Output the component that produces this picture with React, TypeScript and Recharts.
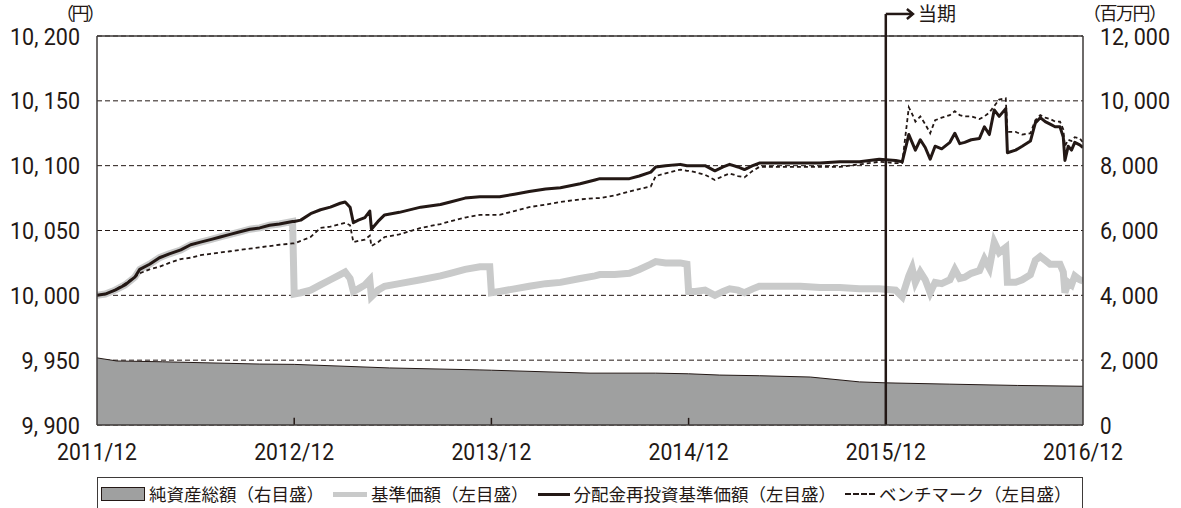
import { ComposedChart, Line, Area, XAxis, YAxis, CartesianGrid, ReferenceLine } from 'recharts';

// time axis: months since 2011/12
const months = [
  0, 0.5, 1.1, 1.7, 2.3, 2.6, 3.2, 3.8, 4.4, 5.1, 5.7, 6.3, 6.9, 7.5, 8.1, 8.7, 9.3, 9.9, 10.5, 11.1,
  11.9, 12.0, 12.4, 13.0, 13.6, 14.2, 14.8, 15.1, 15.4, 15.6, 15.9, 16.3, 16.6, 16.7, 17.1, 17.5, 18.4,
  19.7, 20.9, 21.5, 22.4, 23.3, 23.9, 24.0, 24.5, 25.4, 26.3, 27.3, 28.2, 29.4, 30.3, 30.6, 31.5, 32.4,
  33.0, 33.7, 34.0, 34.6, 35.5, 35.9, 36.0, 36.4, 37.0, 37.6, 38.1, 38.5, 39.0, 39.4, 39.9, 40.3, 41.6,
  42.8, 44.0, 45.2, 46.4, 47.6, 48.6, 49.0, 49.4, 49.6, 49.8, 50.1, 50.4, 50.7, 51.0, 51.4, 51.9, 52.2,
  52.5, 52.8, 53.2, 53.7, 54.0, 54.3, 54.6, 54.9, 55.3, 55.4, 55.9, 56.3, 56.8, 57.1, 57.4, 57.7, 58.0,
  58.3, 58.6, 58.8, 58.9, 59.1, 59.3, 59.5, 59.8, 60.0,
];

// 分配金再投資基準価額
const reinvested = [
  10000, 10001, 10004, 10008, 10014, 10020, 10024, 10029, 10032, 10035, 10039, 10041, 10043, 10045, 10047, 10049, 10051, 10052, 10054, 10055,
  10057, 10057, 10058, 10063, 10066, 10068, 10071, 10072, 10068, 10056, 10058, 10060, 10065, 10051, 10057, 10062, 10064,
  10068, 10070, 10072, 10075, 10076, 10076, 10076, 10076, 10078, 10080, 10082, 10083, 10086, 10089, 10090, 10090, 10090,
  10092, 10095, 10099, 10100, 10101, 10100, 10100, 10100, 10100, 10096, 10099, 10101, 10099, 10097, 10100, 10102, 10102,
  10102, 10102, 10103, 10103, 10105, 10104, 10103, 10124, 10118, 10112, 10120, 10114, 10105, 10115, 10113, 10118, 10125,
  10117, 10118, 10120, 10121, 10130, 10124, 10143, 10138, 10144, 10110, 10112, 10115, 10119, 10133, 10137, 10134, 10132,
  10130, 10130, 10122, 10104, 10115, 10112, 10118, 10116, 10114,
];

// 基準価額
const nav = [
  10000, 10001, 10004, 10008, 10014, 10020, 10024, 10029, 10032, 10035, 10039, 10041, 10043, 10045, 10047, 10049, 10051, 10052, 10054, 10055,
  10057, 10001, 10002, 10004, 10008, 10012, 10016, 10018, 10013, 10003, 10005, 10008, 10012, 9999, 10004, 10007, 10009,
  10012, 10015, 10017, 10020, 10022, 10022, 10002, 10003, 10005, 10007, 10009, 10010, 10013, 10015, 10016, 10016, 10017,
  10020, 10024, 10026, 10025, 10025, 10024, 10003, 10003, 10004, 10000, 10003, 10005, 10004, 10002, 10005, 10007, 10007,
  10007, 10006, 10006, 10005, 10005, 10004, 9999, 10015, 10021, 10010, 10018, 10012, 10002, 10010, 10009, 10012, 10020,
  10013, 10014, 10017, 10019, 10028, 10021, 10041, 10033, 10037, 10010, 10010, 10012, 10016, 10027, 10030, 10027, 10024,
  10024, 10024, 10018, 10002, 10010, 10008, 10015, 10012, 10011,
];

// ベンチマーク
const benchmark = [
  10000, 10001, 10004, 10009, 10014, 10017, 10020, 10022, 10025, 10028, 10029, 10031, 10032, 10033, 10034, 10035, 10036, 10037, 10038, 10039,
  10040, 10040, 10042, 10045, 10052, 10053, 10055, 10056, 10054, 10041, 10042, 10043, 10046, 10038, 10041, 10045, 10047,
  10052, 10055, 10057, 10060, 10062, 10062, 10062, 10062, 10065, 10068, 10070, 10072, 10074, 10075, 10075, 10077, 10080,
  10082, 10084, 10092, 10094, 10097, 10096, 10096, 10095, 10093, 10089, 10092, 10094, 10092, 10091, 10096, 10099, 10099,
  10099, 10099, 10099, 10101, 10103, 10102, 10102, 10145, 10140, 10134, 10138, 10132, 10125, 10135, 10137, 10139, 10142,
  10139, 10138, 10138, 10136, 10138, 10141, 10146, 10151, 10152, 10126, 10126, 10124, 10125, 10135, 10139, 10137, 10136,
  10134, 10134, 10128, 10115, 10120, 10119, 10122, 10121, 10118,
];

// 純資産総額 (百万円)
const assetMonths = [0, 1.2, 4, 9.9, 12, 17.8, 23.3, 24, 30, 34, 36, 37.9, 40.3, 43.4, 44, 46.4, 48, 51.9, 56, 60];
const netAssets = [2070, 1975, 1950, 1880, 1870, 1760, 1700, 1690, 1600, 1600, 1580, 1540, 1520, 1480, 1450, 1330, 1300, 1260, 1220, 1195];

const xTicks = [0, 12, 24, 36, 48, 60];
const xTickLabels = ['2011/12', '2012/12', '2013/12', '2014/12', '2015/12', '2016/12'];
const leftTicks = [9900, 9950, 10000, 10050, 10100, 10150, 10200];
const rightTicks = [0, 2000, 4000, 6000, 8000, 10000, 12000];
const currentPeriodStart = 48;

const INK = '#231815';
const FRAME = '#3e3a39';
const FONT = '"Noto Sans CJK JP", "Noto Sans", sans-serif';
const NUM_FONT = 'Roboto, "Noto Sans", sans-serif';

const lineData = months.map((m, i) => ({
  m,
  reinvested: reinvested[i],
  nav: nav[i],
  benchmark: benchmark[i],
}));
const assetData = assetMonths.map((m, i) => ({ m, netAssets: netAssets[i] }));

const fmt = (v: number) => String(v).replace(/\B(?=(\d{3})+(?!\d))/g, ', ');
const numWidth = (s: string) => {
  const digits = s.replace(/\D/g, '').length;
  return digits * 11.6 + (s.includes(',') ? 12 : 0);
};

function LeftTick({ y, payload }: any) {
  const s = fmt(payload.value);
  return (
    <text x={80} y={y + 8.5} textAnchor="end" fontSize={24} fontFamily={NUM_FONT} fill={INK}
      textLength={numWidth(s)} lengthAdjust="spacingAndGlyphs">{s}</text>
  );
}

function RightTick({ y, payload }: any) {
  const s = fmt(payload.value);
  return (
    <text x={1100} y={y + 8.5} textAnchor="start" fontSize={24} fontFamily={NUM_FONT} fill={INK}
      textLength={numWidth(s)} lengthAdjust="spacingAndGlyphs">{s}</text>
  );
}

function BottomTick({ x, payload }: any) {
  const s = xTickLabels[xTicks.indexOf(payload.value)] ?? '';
  return (
    <text x={x} y={460} textAnchor="middle" fontSize={24} fontFamily={NUM_FONT} fill={INK}
      textLength={80} lengthAdjust="spacingAndGlyphs">{s}</text>
  );
}

function PeriodArrow({ x1, y1, x2 }: any) {
  return (
    <g>
      <line x1={x1} y1={y1} x2={x2} y2={y1} stroke={INK} strokeWidth={2.5} />
      <polyline points={`${x2 - 6},${y1 - 5} ${x2},${y1} ${x2 - 6},${y1 + 5}`} fill="none" stroke={INK} strokeWidth={2.5} />
      <text x={x2 + 5} y={y1 + 7} fontSize={19} fontFamily={FONT} fill={INK}>当期</text>
    </g>
  );
}

function LegendRow() {
  const item = { display: 'flex', alignItems: 'center' } as const;
  const text = { marginLeft: 4, marginRight: 9 } as const;
  return (
    <div style={{
      position: 'absolute', left: 97, top: 477, width: 986, height: 40, boxSizing: 'border-box',
      border: `1px solid ${FRAME}`, display: 'flex', alignItems: 'flex-start', paddingTop: 4, paddingLeft: 3,
      fontFamily: FONT, fontSize: 17.5, lineHeight: '24px', color: INK, whiteSpace: 'nowrap',
    }}>
      <div style={item}>
        <span style={{ width: 42, height: 12, background: '#9fa0a0', border: `1px solid ${INK}` }} />
        <span style={text}>純資産総額（右目盛）</span>
      </div>
      <div style={item}>
        <span style={{ width: 34, height: 5, background: '#c9caca' }} />
        <span style={text}>基準価額（左目盛）</span>
      </div>
      <div style={item}>
        <span style={{ width: 32, height: 3, background: INK }} />
        <span style={text}>分配金再投資基準価額（左目盛）</span>
      </div>
      <div style={item}>
        <span style={{ width: 30, height: 0, borderTop: `2px dashed ${INK}` }} />
        <span style={text}>ベンチマーク（左目盛）</span>
      </div>
    </div>
  );
}

export default function App() {
  return (
    <div style={{ position: 'absolute', left: 0, top: 0, width: 1181, height: 508, background: '#fff', overflow: 'hidden' }}>
      <ComposedChart width={1181} height={508} margin={{ top: 36, right: 0, bottom: 0, left: 0 }}>
        <CartesianGrid yAxisId="left" vertical={false} stroke={INK} strokeDasharray="5 3" strokeWidth={1} />
        <XAxis dataKey="m" type="number" domain={[0, 60]} ticks={xTicks} allowDataOverflow
          height={83} tick={<BottomTick />} tickLine={false} axisLine={{ stroke: FRAME, strokeWidth: 1.5 }} />
        <YAxis yAxisId="left" orientation="left" width={97} domain={[9900, 10200]} ticks={leftTicks}
          allowDataOverflow tick={<LeftTick />} tickLine={false} axisLine={{ stroke: FRAME, strokeWidth: 1.5 }} />
        <YAxis yAxisId="right" orientation="right" width={98} domain={[0, 12000]} ticks={rightTicks}
          allowDataOverflow tick={<RightTick />} tickLine={false} axisLine={{ stroke: FRAME, strokeWidth: 1.5 }} />
        <Area yAxisId="right" data={assetData} dataKey="netAssets" type="linear" fill="#9fa0a0" fillOpacity={1}
          stroke={INK} strokeWidth={1} isAnimationActive={false} />
        <ReferenceLine yAxisId="left" y={10200} stroke={FRAME} strokeWidth={1.5} />
        {xTicks.slice(1, -1).map((t) => (
          <ReferenceLine key={t} yAxisId="left" segment={[{ x: t, y: 9900 }, { x: t, y: 9905.5 }]} stroke={INK} strokeWidth={1.5} />
        ))}
        <Line yAxisId="left" data={lineData} dataKey="nav" type="linear" stroke="#c9caca" strokeWidth={7}
          dot={false} isAnimationActive={false} />
        <Line yAxisId="left" data={lineData} dataKey="reinvested" type="linear" stroke={INK} strokeWidth={3}
          strokeLinejoin="round" dot={false} isAnimationActive={false} />
        <Line yAxisId="left" data={lineData} dataKey="benchmark" type="linear" stroke={INK} strokeWidth={1.8}
          strokeDasharray="4 3" dot={false} isAnimationActive={false} />
        <ReferenceLine yAxisId="left" ifOverflow="visible"
          segment={[{ x: currentPeriodStart, y: 9900 }, { x: currentPeriodStart, y: 10217 }]} stroke={INK} strokeWidth={2.5} />
        <ReferenceLine yAxisId="left" ifOverflow="visible"
          segment={[{ x: currentPeriodStart, y: 10217 }, { x: currentPeriodStart + 1.65, y: 10217 }]}
          shape={<PeriodArrow />} />
      </ComposedChart>
      <span style={{ position: 'absolute', left: 56, top: 3, fontFamily: FONT, fontSize: 18, lineHeight: '18px', color: INK, letterSpacing: -2.5 }}>（円）</span>
      <span style={{ position: 'absolute', left: 1083, top: 3, fontFamily: FONT, fontSize: 18, lineHeight: '18px', color: INK, letterSpacing: -1.5 }}>（百万円）</span>
      <LegendRow />
    </div>
  );
}
